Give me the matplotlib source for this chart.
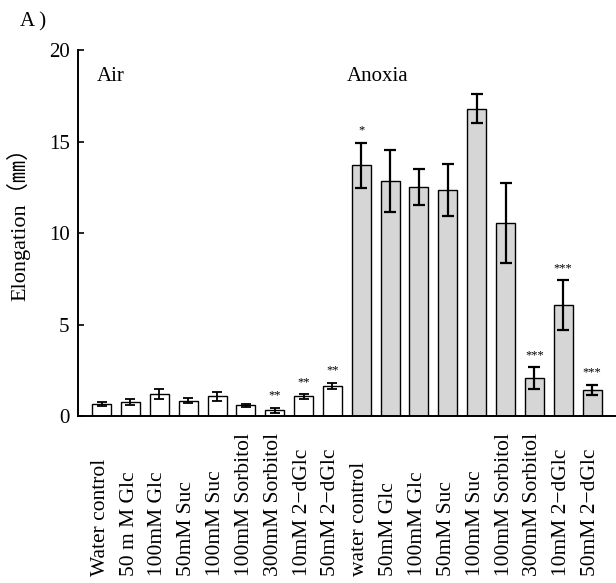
import matplotlib
matplotlib.use("Agg")
import matplotlib.pyplot as plt
import matplotlib.transforms as mtransforms
import numpy as np

# 条件名
labels_air = ["Water control", "50 m M Glc", "100mM Glc", "50mM Suc", "100mM Suc",
              "100mM Sorbitol", "300mM Sorbitol", "10mM 2\u2212dGlc", "50mM 2\u2212dGlc"]
labels_anoxia = ["water control", "50mM Glc", "100mM Glc", "50mM Suc", "100mM Suc",
                 "100mM Sorbitol", "300mM Sorbitol", "10mM 2\u2212dGlc", "50mM 2\u2212dGlc"]

# 伸長量 (mm) と誤差
air_mean = [0.64, 0.77, 1.20, 0.84, 1.07, 0.58, 0.31, 1.07, 1.64]
air_err = [0.10, 0.18, 0.25, 0.13, 0.23, 0.07, 0.12, 0.12, 0.19]
anoxia_mean = [13.7, 12.84, 12.5, 12.35, 16.8, 10.55, 2.08, 6.07, 1.44]
anoxia_err = [1.24, 1.69, 0.98, 1.42, 0.77, 2.2, 0.58, 1.35, 0.27]

# 有意差の記号
air_sig = ["", "", "", "", "", "", "**", "**", "**"]
anoxia_sig = ["*", "", "", "", "", "", "***", "***", "***"]

plt.rcParams['font.family'] = ['Liberation Serif', 'Noto Sans CJK JP']
plt.rcParams['ytick.direction'] = 'in'

fig = plt.figure(figsize=(6.16, 5.83), dpi=100)
ax = fig.add_axes([0.1266, 0.2864, 0.872, 0.6278])

n_air = len(air_mean)
x_air = np.arange(n_air)
x_anox = np.arange(len(anoxia_mean)) + n_air
width = 0.66

ax.bar(x_air, air_mean, width, color='white', edgecolor='black', linewidth=1.0,
       yerr=air_err, error_kw=dict(ecolor='black', elinewidth=1.3, capsize=3.5, capthick=1.3))
ax.bar(x_anox, anoxia_mean, width, color='#d6d6d6', edgecolor='black', linewidth=1.0,
       yerr=anoxia_err, error_kw=dict(ecolor='black', elinewidth=1.6, capsize=4, capthick=1.6))

# 星印
for xs, m, e, s in [(x_air, air_mean, air_err, air_sig),
                    (x_anox, anoxia_mean, anoxia_err, anoxia_sig)]:
    for xi, mi, ei, si in zip(xs, m, e, s):
        if si:
            ax.text(xi, mi + ei + 0.35, si, ha='center', va='bottom', fontsize=9)

ax.set_xlim(-0.82, 17.8)
ax.set_ylim(0, 20)
ax.set_yticks([0, 5, 10, 15, 20])
ax.tick_params(axis='y', labelsize=15, length=4, width=1.2, pad=6)

# x軸ラベルは下端揃えで縦書き
ax.set_xticks([])
trans = mtransforms.blended_transform_factory(ax.transData, fig.transFigure)
for xi, lab in zip(np.concatenate([x_air, x_anox]), labels_air + labels_anoxia):
    ax.text(xi - 0.05, 0.012, lab, transform=trans, rotation=90,
            ha='center', va='bottom', fontsize=15.5)

for side in ['top', 'right']:
    ax.spines[side].set_visible(False)
for side in ['left', 'bottom']:
    ax.spines[side].set_linewidth(1.4)

ax.set_ylabel("Elongation\uff08\u339c\uff09", fontsize=16)
ax.yaxis.set_label_coords(-0.088, 0.54)

ax.text(0.035, 0.915, "Air", transform=ax.transAxes, fontsize=15)
ax.text(0.50, 0.915, "Anoxia", transform=ax.transAxes, fontsize=15)
fig.text(0.032, 0.955, "A )", fontsize=15)

fig.savefig("out.png", dpi=100)
